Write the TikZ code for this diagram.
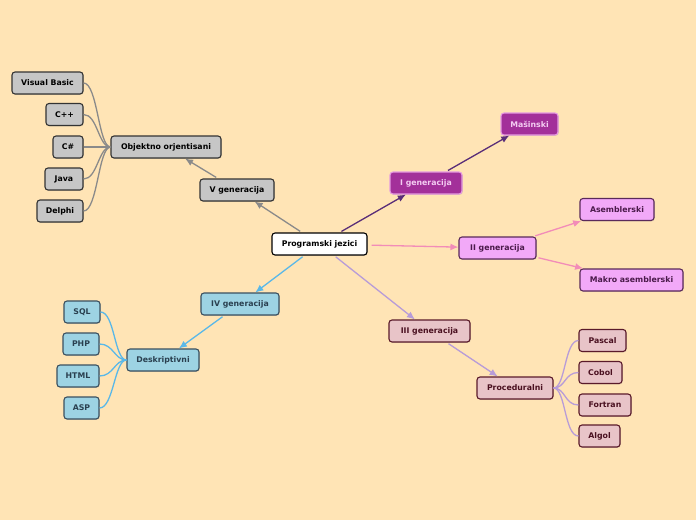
\documentclass[tikz,border=0pt]{standalone}
\usepackage{fontspec}
\setmainfont{DejaVu Sans}
\usetikzlibrary{arrows.meta,shadows}
\definecolor{bg}{HTML}{FFE4B5}
\definecolor{grayfill}{HTML}{C6C6C6}
\definecolor{grayline}{HTML}{8A8A8A}
\definecolor{pAfill}{HTML}{A3309A}
\definecolor{pAborder}{HTML}{E59AE0}
\definecolor{pAtext}{HTML}{F4CCF2}
\definecolor{pAline}{HTML}{5A2E78}
\definecolor{pBfill}{HTML}{F2A9F8}
\definecolor{pBborder}{HTML}{5A2A5A}
\definecolor{pBtext}{HTML}{4A1A4A}
\definecolor{pBline}{HTML}{F28CB8}
\definecolor{pCfill}{HTML}{E8C4C8}
\definecolor{pCborder}{HTML}{5A1A2A}
\definecolor{pCtext}{HTML}{4A1020}
\definecolor{pCline}{HTML}{B89CD8}
\definecolor{pDfill}{HTML}{9DD3E3}
\definecolor{pDborder}{HTML}{3A5060}
\definecolor{pDtext}{HTML}{2A4050}
\definecolor{pDline}{HTML}{5AB8E8}
\tikzset{
  box/.style={draw, rounded corners=3pt, line width=1.1pt, minimum height=22pt, inner sep=0pt,
    font=\fontsize{7.8}{9}\selectfont\bfseries,
    drop shadow={shadow xshift=0.8pt, shadow yshift=-0.8pt, opacity=0.25}},
  grayb/.style={box, fill=grayfill, draw=black!80, text=black},
  rootb/.style={box, fill=white, draw=black, text=black},
  Ab/.style={box, fill=pAfill, draw=pAborder, text=pAtext},
  Bb/.style={box, fill=pBfill, draw=pBborder, text=pBtext},
  Cb/.style={box, fill=pCfill, draw=pCborder, text=pCtext},
  Db/.style={box, fill=pDfill, draw=pDborder, text=pDtext},
  arr/.style={line width=1.3pt, -{Latex[length=8pt,width=7pt]}, shorten <=2pt},
  crv/.style={line width=1.3pt},
}
\begin{document}
\begin{tikzpicture}[x=1pt,y=-1pt]
\fill[bg] (0,0) rectangle (696,520);
\useasboundingbox (0,0) rectangle (696,520);

\node[rootb, minimum width=95pt] (P) at (319.5,244) {Programski jezici};

\node[Ab, minimum width=72pt] (I1) at (426,183) {I generacija};
\node[Ab, minimum width=57pt] (M) at (529.5,124) {Mašinski};

\node[Bb, minimum width=77pt] (I2) at (497.5,248) {II generacija};
\node[Bb, minimum width=74pt] (As) at (617,209.5) {Asemblerski};
\node[Bb, minimum width=103pt] (Ma) at (631.5,280) {Makro asemblerski};

\node[Cb, minimum width=81pt] (I3) at (429.5,331) {III generacija};
\node[Cb, minimum width=76pt] (Pr) at (515,388) {Proceduralni};
\node[Cb, minimum width=47pt] (Pa) at (602.5,340.5) {Pascal};
\node[Cb, minimum width=43pt] (Co) at (600.5,372.5) {Cobol};
\node[Cb, minimum width=52pt] (Fo) at (605,405) {Fortran};
\node[Cb, minimum width=41pt] (Al) at (599.5,436) {Algol};

\node[Db, minimum width=78pt] (I4) at (240,304) {IV generacija};
\node[Db, minimum width=72pt] (De) at (163,360) {Deskriptivni};
\node[Db, minimum width=36pt] (SQ) at (82,312) {SQL};
\node[Db, minimum width=36pt] (PH) at (81,344) {PHP};
\node[Db, minimum width=42pt] (HT) at (78,376) {HTML};
\node[Db, minimum width=35pt] (AS) at (81.5,408) {ASP};

\node[grayb, minimum width=74pt] (I5) at (237,190) {V generacija};
\node[grayb, minimum width=110pt] (Ob) at (166,147) {Objektno orjentisani};
\node[grayb, minimum width=71pt] (VB) at (47.5,83) {Visual Basic};
\node[grayb, minimum width=37pt] (Cp) at (64.5,114.5) {C++};
\node[grayb, minimum width=30pt] (Cs) at (68,147) {C\#};
\node[grayb, minimum width=38pt] (Ja) at (64,179) {Java};
\node[grayb, minimum width=46pt] (De2) at (60,211) {Delphi};

% arrows
\draw[arr, pAline] (P) -- (I1);
\draw[arr, pAline] (I1) -- (M);
\draw[arr, pBline, shorten <=4pt] (P) -- (I2);
\draw[arr, pBline] (I2) -- (As);
\draw[arr, pBline] (I2) -- (Ma);
\draw[arr, pCline] (P) -- (I3);
\draw[arr, pCline] (I3) -- (Pr);
\draw[arr, pDline] (P) -- (I4);
\draw[arr, pDline] (I4) -- (De);
\draw[arr, grayline] (P) -- (I5);
\draw[arr, grayline] (I5) -- (Ob);

% curves
\foreach \c in {VB,Cp,Cs,Ja,De2}
  \draw[crv, grayline] (\c.east) .. controls +(14,0) and +(-12,0) .. (Ob.west);
\foreach \c in {SQ,PH,HT,AS}
  \draw[crv, pDline] (\c.east) .. controls +(14,0) and +(-12,0) .. (De.west);
\foreach \c in {Pa,Co,Fo,Al}
  \draw[crv, pCline] (Pr.east) .. controls +(12,0) and +(-14,0) .. (\c.west);
\end{tikzpicture}
\end{document}
